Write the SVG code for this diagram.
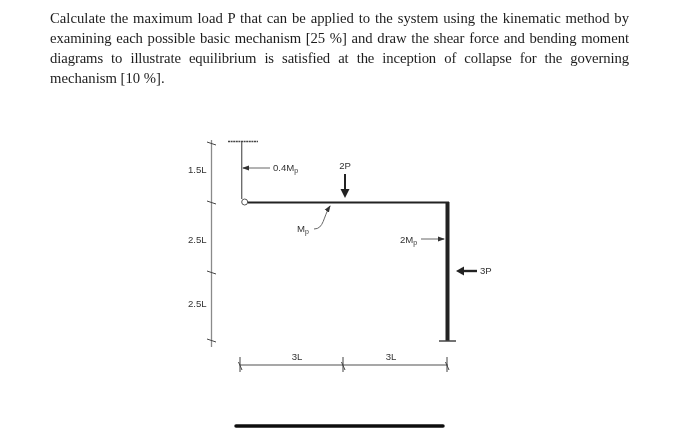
<svg xmlns="http://www.w3.org/2000/svg" width="700" height="434" viewBox="0 0 700 434">
<style>
.body{font-family:"Liberation Serif",serif;font-size:14.7px;fill:#1c1c1c}
.lab{font-family:"Liberation Sans",Arial,sans-serif;font-size:9.6px;fill:#333}
.sub{font-size:7px}
.dim{stroke:#8a8a8a;stroke-width:1.300;fill:none}
.tick{stroke:#444;stroke-width:1;fill:none}
.thin{stroke:#666;stroke-width:1;fill:none}
.frame{stroke:#222;fill:none}
</style>
<defs>
<marker id="ah" markerWidth="7" markerHeight="6" refX="6" refY="3" orient="auto" markerUnits="userSpaceOnUse"><path d="M0,0.500 L7,3 L0,5.500 Z" fill="#333"/></marker>
<filter id="soft" x="-5%" y="-5%" width="110%" height="110%"><feGaussianBlur stdDeviation="0.35"/></filter>
</defs>
<rect width="700" height="434" fill="#fff"/>
<g filter="url(#soft)">
<g id="statement">
<text class="body" x="50" y="23" textLength="579" lengthAdjust="spacing" word-spacing="1.100">Calculate the maximum load P that can be applied to the system using the kinematic method by</text>
<text class="body" x="50" y="43" textLength="579" lengthAdjust="spacing" word-spacing="1.100">examining each possible basic mechanism [25 %] and draw the shear force and bending moment</text>
<text class="body" x="50" y="63" textLength="579" lengthAdjust="spacing" word-spacing="4.500">diagrams to illustrate equilibrium is satisfied at the inception of collapse for the governing</text>
<text class="body" x="50" y="83">mechanism [10 %].</text>
</g>
<g id="connectors">
<path class="dim" d="M211.500 140V347"/>
<path class="tick" d="M207 142L216 145M207 201L216 204M207 271L216 274M207 339L216 342"/>
<path class="dim" d="M240 365H448"/>
<path class="tick" d="M240 357V372M238.500 362L242 370M343 357V372M341.500 362L345 370M447 357V372M445.500 362L449 370"/>
<path class="thin" d="M270 168H243" marker-end="url(#ah)"/>
<path class="thin" d="M421 239H444" marker-end="url(#ah)"/>
<path class="thin" d="M314 229C324 229 323 217 330 206" marker-end="url(#ah)"/>
</g>
<g id="support-top">
<path d="M228 141.500H258" stroke="#444" stroke-width="1.600" stroke-dasharray="2 .6"/>
<path d="M241.700 142V199" stroke="#666" stroke-width="1.300"/>
</g>
<g id="hinge"><circle cx="244.700" cy="202" r="3" fill="#fff" stroke="#555" stroke-width="1"/></g>
<g id="beam"><path class="frame" d="M248 202.500H449" stroke-width="2"/></g>
<g id="column"><path class="frame" d="M447.500 202V341" stroke-width="4"/></g>
<g id="support-base"><path d="M439 341H456" stroke="#444" stroke-width="1.500"/></g>
<g id="load-2P">
<path d="M345 174V191" stroke="#222" stroke-width="2"/><path d="M340.500 189H349.500L345 198Z" fill="#222"/>
<text class="lab" x="345" y="169" text-anchor="middle">2P</text>
</g>
<g id="load-3P">
<path d="M477 271H463" stroke="#222" stroke-width="2.400"/><path d="M464 266.500V275.500L456 271Z" fill="#222"/>
<text class="lab" x="480" y="274">3P</text>
</g>
<g id="labels">
<text class="lab" x="188" y="173">1.5L</text>
<text class="lab" x="188" y="243">2.5L</text>
<text class="lab" x="188" y="307">2.5L</text>
<text class="lab" x="273" y="171">0.4M<tspan class="sub" dy="2">p</tspan></text>
<text class="lab" x="297" y="232">M<tspan class="sub" dy="2">p</tspan></text>
<text class="lab" x="400" y="243">2M<tspan class="sub" dy="2">p</tspan></text>
<text class="lab" x="297" y="360" text-anchor="middle">3L</text>
<text class="lab" x="391" y="360" text-anchor="middle">3L</text>
</g>
<g id="bottom-bar"><path d="M236 426H443" stroke="#111" stroke-width="3.500" stroke-linecap="round"/></g>
</g>
</svg>
